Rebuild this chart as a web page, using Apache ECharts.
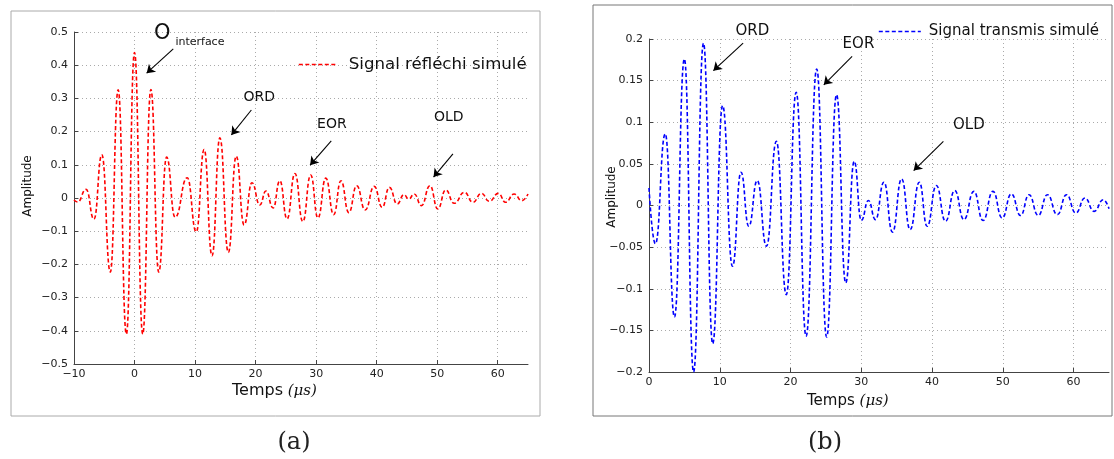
<!DOCTYPE html>
<html><head><meta charset="utf-8">
<script src="https://cdn.jsdelivr.net/npm/echarts@6/dist/echarts.min.js"></script>
<style>html,body{margin:0;padding:0;background:#fff}#c{width:1114px;height:459px}</style>
</head><body><div id="c"></div><script>
// ---- (a) reflected signal: extrema (time in µs, amplitude)
const leftTime = [-10, -9.4, -8.0, -6.7, -5.4, -4.0, -2.7, -1.35, 0, 1.35, 2.7, 4.0, 5.3, 6.7, 8.7, 10.2,
  11.5, 12.8, 14.1, 15.5, 16.8, 18.1, 19.4, 20.7, 21.7, 22.9, 24.0, 25.2, 26.5, 27.8, 29.1, 30.3, 31.6,
  32.9, 34.1, 35.4, 36.7, 38.1, 39.6, 40.9, 42.1, 43.4, 44.5, 45.3, 46.2, 47.4, 48.8, 50.1, 51.4, 52.8,
  54.5, 55.9, 57.3, 58.6, 60.1, 61.3, 62.7, 64.0, 65.0];
const leftAmp = [-0.006, -0.012, 0.026, -0.064, 0.13, -0.223, 0.326, -0.41, 0.438, -0.41, 0.327, -0.223, 0.123, -0.058, 0.061, -0.102,
  0.146, -0.174, 0.181, -0.164, 0.126, -0.081, 0.046, -0.021, 0.021, -0.03, 0.052, -0.063, 0.074, -0.071, 0.069, -0.06, 0.06,
  -0.05, 0.052, -0.044, 0.037, -0.036, 0.035, -0.028, 0.032, -0.018, 0.01, -0.003, 0.012, -0.023, 0.037, -0.033, 0.024, -0.016,
  0.017, -0.013, 0.014, -0.01, 0.014, -0.013, 0.012, -0.008, 0.012];
// ---- (b) transmitted signal
const rightTime = [0, 0.9, 2.3, 3.6, 5.0, 6.3, 7.7, 9.0, 10.4, 11.8, 13.0, 14.1, 15.3, 16.6, 18.0, 19.4, 20.8,
  22.2, 23.7, 25.1, 26.5, 27.8, 29.0, 30.0, 31.0, 32.0, 33.2, 34.4, 35.7, 36.9, 38.2, 39.3, 40.6, 41.9, 43.2,
  44.5, 45.9, 47.2, 48.6, 49.9, 51.2, 52.5, 53.7, 55.0, 56.3, 57.7, 59.0, 60.3, 61.6, 62.9, 64.2, 65.0];
const rightAmp = [0.021, -0.046, 0.086, -0.134, 0.176, -0.2, 0.195, -0.166, 0.12, -0.073, 0.04, -0.025, 0.03, -0.049, 0.077, -0.107, 0.136,
  -0.157, 0.164, -0.158, 0.133, -0.093, 0.053, -0.018, 0.006, -0.017, 0.028, -0.032, 0.032, -0.029, 0.028, -0.025, 0.024, -0.019, 0.018,
  -0.017, 0.017, -0.018, 0.017, -0.015, 0.014, -0.012, 0.013, -0.012, 0.013, -0.011, 0.013, -0.009, 0.009, -0.007, 0.007, -0.004];
// ---- tick labels
const leftXTicks = [-10, 0, 10, 20, 30, 40, 50, 60];
const leftYTicks = [-0.5, -0.4, -0.3, -0.2, -0.1, 0, 0.1, 0.2, 0.3, 0.4, 0.5];
const rightXTicks = [0, 10, 20, 30, 40, 50, 60];
const rightYTicks = [-0.2, -0.15, -0.1, -0.05, 0, 0.05, 0.1, 0.15, 0.2];
const xMax = 65;
// ---- annotations (text, x, y, font size, vertical pixel nudge)
const leftNotes = [['O', 4.6, 0.494, 21, 0], ['interface', 10.8, 0.468, 11, 0], ['ORD', 20.6, 0.304, 14, 0], ['EOR', 32.6, 0.223, 14, 0], ['OLD', 51.9, 0.244, 14, 0]];
const leftArrows = [[[6.4, 0.449], [2.0, 0.376]], [[19.3, 0.265], [16.0, 0.19]], [[32.5, 0.172], [29.0, 0.099]], [[52.6, 0.133], [49.4, 0.063]]];
const rightNotes = [['ORD', 14.6, 0.2, 15, -8], ['EOR', 29.6, 0.194, 15, 0], ['OLD', 45.2, 0.096, 15, 0]];
const rightArrows = [[[13.3, 0.195], [9.1, 0.162]], [[28.7, 0.179], [24.7, 0.145]], [[41.6, 0.077], [37.4, 0.042]]];
const leftName = 'Signal réfléchi simulé';
const rightName = 'Signal transmis simulé';

const fmt = v => String(parseFloat(v.toFixed(2))).replace('-', '\u2212');
const font = 'DejaVu Sans';
function xAx(ticks, gi) {
  return { type: 'value', gridIndex: gi, min: ticks[0], max: xMax, interval: ticks[1] - ticks[0],
    axisLine: { show: true, onZero: false, lineStyle: { color: '#444', width: 1 } },
    axisTick: { show: true, inside: true, length: 4, lineStyle: { color: '#444' } },
    axisLabel: { formatter: fmt, color: '#222', fontFamily: font, fontSize: 11, margin: 5, showMaxLabel: false },
    splitLine: { show: true, showMaxLine: false, lineStyle: { type: [1, 3], color: '#aaa' } } };
}
function yAx(ticks, gi) {
  return { type: 'value', gridIndex: gi, min: ticks[0], max: ticks[ticks.length - 1],
    interval: parseFloat((ticks[1] - ticks[0]).toFixed(3)),
    axisLine: { show: true, onZero: false, lineStyle: { color: '#444', width: 1 } },
    axisTick: { show: true, inside: true, length: 4, lineStyle: { color: '#444' } },
    axisLabel: { formatter: fmt, color: '#222', fontFamily: font, fontSize: 11, margin: 6 },
    splitLine: { show: true, lineStyle: { type: [1, 3], color: '#aaa' } } };
}
function series(name, t, a, color, gi, notes, arrows) {
  return { name, type: 'line', xAxisIndex: gi, yAxisIndex: gi, data: t.map((x, i) => [x, a[i]]),
    smooth: 0.5, smoothMonotone: 'x', symbol: 'none', clip: true,
    lineStyle: { color, width: 1.6, type: [4, 2.5] }, itemStyle: { color },
    markLine: { silent: true, symbol: ['none', 'arrow'], symbolSize: 8, animation: false,
      lineStyle: { color: '#000', type: 'solid', width: 1.1 }, label: { show: false },
      data: arrows.map(ar => [{ coord: ar[0] }, { coord: ar[1] }]) },
    markPoint: { silent: true, symbol: 'circle', symbolSize: 0, animation: false,
      data: notes.map(n => ({ coord: [n[1], n[2]], value: n[0],
        label: { show: true, formatter: n[0], color: '#111', fontFamily: font, fontSize: n[3], position: 'inside', offset: [0, n[4]] } })) } };
}
const chart = echarts.init(document.getElementById('c'));
chart.setOption({
  animation: false,
  backgroundColor: '#fff',
  grid: [{ left: 74, top: 32, width: 454, height: 332 }, { left: 649, top: 39, width: 460, height: 333 }],
  xAxis: [xAx(leftXTicks, 0), xAx(rightXTicks, 1)],
  yAxis: [yAx(leftYTicks, 0), yAx(rightYTicks, 1)],
  legend: [
    { data: [leftName], left: 293, top: 51, itemWidth: 39, itemHeight: 14, itemStyle: { opacity: 0 },
      lineStyle: { type: [4, 2.5], width: 1.6 }, textStyle: { fontFamily: font, fontSize: 16.6, color: '#111', padding: [0, 0, 0, 6] } },
    { data: [rightName], left: 873, top: 19, itemWidth: 42, itemHeight: 14, itemStyle: { opacity: 0 },
      lineStyle: { type: [4, 2.5], width: 1.6 }, textStyle: { fontFamily: font, fontSize: 15, color: '#111', padding: [0, 0, 0, 3] } }
  ],
  series: [series(leftName, leftTime, leftAmp, '#ff0000', 0, leftNotes, leftArrows),
           series(rightName, rightTime, rightAmp, '#0000ff', 1, rightNotes, rightArrows)],
  graphic: [
    { type: 'rect', shape: { x: 11, y: 11, width: 529, height: 405 }, style: { fill: 'none', stroke: '#aaa', lineWidth: 1 }, silent: true, z: -1 },
    { type: 'rect', shape: { x: 593, y: 5, width: 519, height: 411 }, style: { fill: 'none', stroke: '#777', lineWidth: 1 }, silent: true, z: -1 },
    { type: 'text', x: 28, y: 186, rotation: Math.PI / 2, style: { text: 'Amplitude', font: '12px "DejaVu Sans"', fill: '#111', align: 'center', verticalAlign: 'middle' } },
    { type: 'text', x: 612, y: 197, rotation: Math.PI / 2, style: { text: 'Amplitude', font: '12px "DejaVu Sans"', fill: '#111', align: 'center', verticalAlign: 'middle' } },
    { type: 'text', x: 232, y: 391, style: { text: '{a|Temps}{b| (μs)}', align: 'left', verticalAlign: 'middle',
      rich: { a: { fontFamily: font, fontSize: 16, fill: '#111' }, b: { fontFamily: 'DejaVu Serif', fontStyle: 'italic', fontSize: 15, fill: '#111' } } } },
    { type: 'text', x: 807, y: 401, style: { text: '{a|Temps}{b| (μs)}', align: 'left', verticalAlign: 'middle',
      rich: { a: { fontFamily: font, fontSize: 15, fill: '#111' }, b: { fontFamily: 'DejaVu Serif', fontStyle: 'italic', fontSize: 15, fill: '#111' } } } },
    { type: 'text', x: 294, y: 443, style: { text: '(a)', font: '24px "DejaVu Serif"', fill: '#222', align: 'center', verticalAlign: 'middle' } },
    { type: 'text', x: 825, y: 443, style: { text: '(b)', font: '24px "DejaVu Serif"', fill: '#222', align: 'center', verticalAlign: 'middle' } }
  ]
});
</script></body></html>
